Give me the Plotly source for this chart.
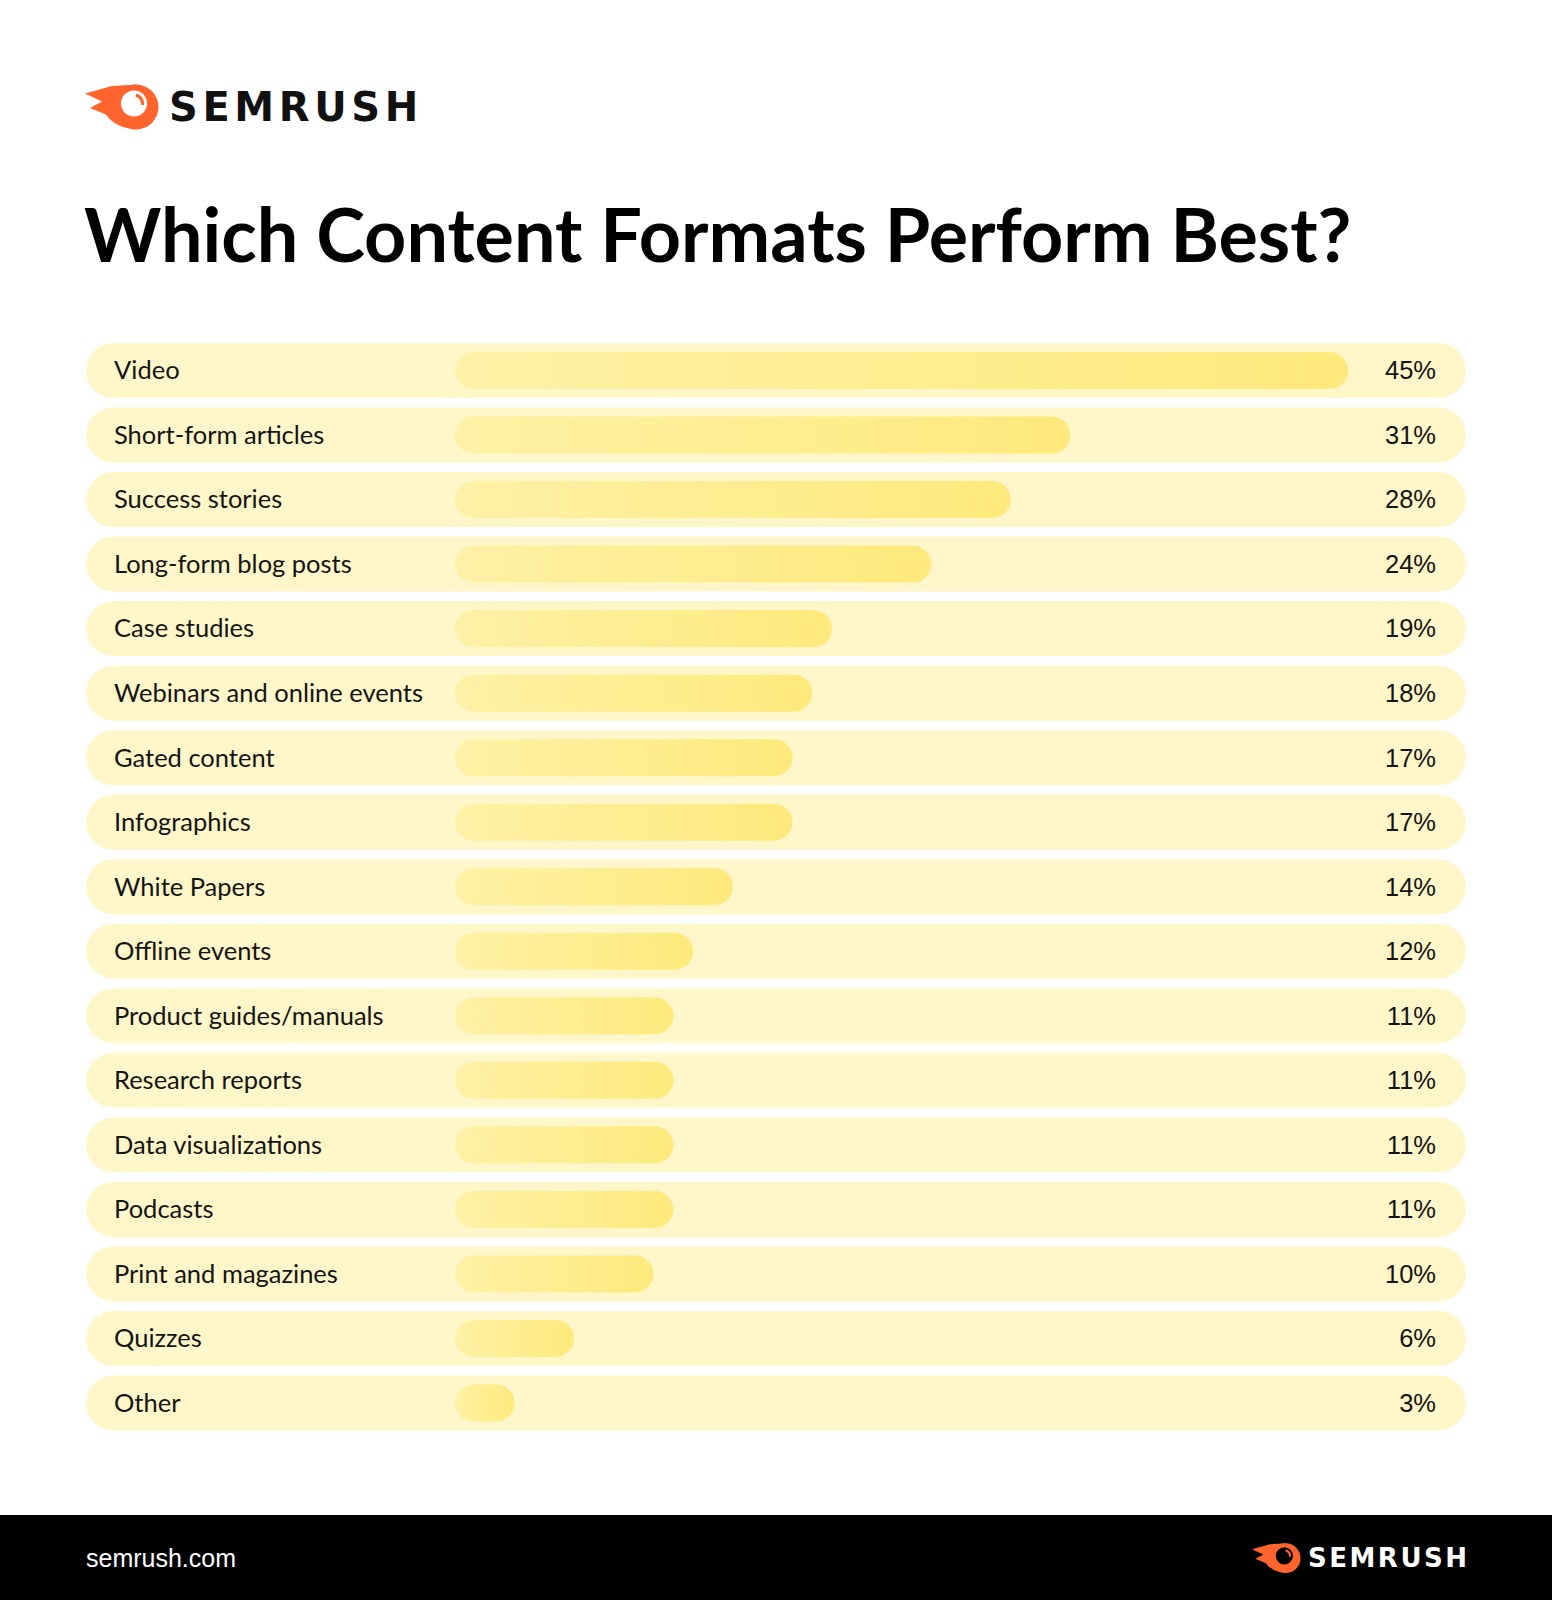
import numpy as np
import plotly.graph_objects as go

# ---------------- data ----------------
categories = [
    "Video", "Short-form articles", "Success stories", "Long-form blog posts",
    "Case studies", "Webinars and online events", "Gated content", "Infographics",
    "White Papers", "Offline events", "Product guides/manuals", "Research reports",
    "Data visualizations", "Podcasts", "Print and magazines", "Quizzes", "Other",
]
values = [45, 31, 28, 24, 19, 18, 17, 17, 14, 12, 11, 11, 11, 11, 10, 6, 3]
value_labels = [f"{v}%" for v in values]

title_text = "Which Content Formats Perform Best?"
brand_text = "SEMRUSH"
footer_url = "semrush.com"

# ---------------- geometry (pixel layout) ----------------
W, H = 1552, 1600
X0_PX = 455.0        # pixel where 0% sits
PX_PER_PCT = 19.85   # pixels per 1 %
Y0_PX = 370.5        # pixel centre of first row
ROW_PITCH = 64.53    # pixels between rows
TEXT_DY = 2.5 / ROW_PITCH  # small downward nudge for text baseline

def X(px):
    return (px - X0_PX) / PX_PER_PCT

def Y(py):
    return (py - Y0_PX) / ROW_PITCH

def pill(x0, x1, yc, r_px, n=24):
    """rounded pill in data coords; x0,x1 data, yc data, radius in px"""
    rx = r_px / PX_PER_PCT
    ry = r_px / ROW_PITCH
    xs, ys = [], []
    t = np.linspace(-np.pi / 2, np.pi / 2, n)
    xs += list(x1 - rx + rx * np.cos(t)); ys += list(yc + ry * np.sin(t))
    t = np.linspace(np.pi / 2, 3 * np.pi / 2, n)
    xs += list(x0 + rx + rx * np.cos(t)); ys += list(yc + ry * np.sin(t))
    xs.append(xs[0]); ys.append(ys[0])
    return xs, ys

ROW_BG = "#FFF7C9"
BAR_SCALE = [[0, "#FFF1A6"], [1, "#FFE97C"]]

fig = go.Figure()

# row backgrounds
bx, by = [], []
for i, _ in enumerate(categories):
    xs, ys = pill(X(86), X(1466), i, 27.5)
    bx += xs + [None]; by += ys + [None]
fig.add_trace(go.Scatter(x=bx, y=by, mode="lines", fill="toself",
                         fillcolor=ROW_BG, line=dict(width=0, color="rgba(0,0,0,0)"),
                         hoverinfo="skip", showlegend=False))

# bars (each with its own gradient)
for i, v in enumerate(values):
    xs, ys = pill(0, v, i, 18.5)
    fig.add_trace(go.Scatter(x=xs, y=ys, mode="lines", fill="toself",
                             fillgradient=dict(type="horizontal", colorscale=BAR_SCALE),
                             line=dict(width=0, color="rgba(0,0,0,0)"),
                             hoverinfo="skip", showlegend=False))

row_y = [i + TEXT_DY for i in range(len(categories))]

# category labels
fig.add_trace(go.Scatter(x=[X(114)] * len(categories), y=row_y,
                         mode="text", text=categories, textposition="middle right",
                         textfont=dict(family="Lato", size=25.5, color="#141414"),
                         hoverinfo="skip", showlegend=False))

# value labels
fig.add_trace(go.Scatter(x=[X(1436)] * len(values), y=row_y,
                         mode="text", text=value_labels, textposition="middle left",
                         textfont=dict(family="Liberation Sans", size=25.5, color="#141414"),
                         hoverinfo="skip", showlegend=False))

shapes = []
# footer band
shapes.append(dict(type="rect", xref="x", yref="y", x0=X(-5), x1=X(W + 5),
                   y0=Y(1515), y1=Y(H + 5), fillcolor="#000000", line=dict(width=0),
                   layer="below"))

ORANGE = "#FF642D"

def logo(ox, oy, s, inner_color):
    def P(rx, ry):
        return X(ox + rx * s), Y(oy + ry * s)
    pts = [(52, 0.5), (27, 2), (0, 9.5), (17, 17.5), (5, 24), (21, 30.5)]
    d = ""
    for k, (a, b) in enumerate(pts):
        px_, py_ = P(a, b)
        d += ("M" if k == 0 else "L") + f"{px_},{py_} "
    c1 = P(30, 44); e = P(52, 45.5)
    d += f"Q{c1[0]},{c1[1]} {e[0]},{e[1]} Z"
    out = [dict(type="path", xref="x", yref="y", path=d, fillcolor=ORANGE,
                line=dict(width=0))]
    # outer disk
    cx, cy, r = 51, 23, 22.5
    a0 = P(cx - r, cy - r); a1 = P(cx + r, cy + r)
    out.append(dict(type="circle", xref="x", yref="y", x0=a0[0], x1=a1[0],
                    y0=a0[1], y1=a1[1], fillcolor=ORANGE, line=dict(width=0)))
    # inner hole
    cx, cy, r = 49, 19.5, 13
    a0 = P(cx - r, cy - r); a1 = P(cx + r, cy + r)
    out.append(dict(type="circle", xref="x", yref="y", x0=a0[0], x1=a1[0],
                    y0=a0[1], y1=a1[1], fillcolor=inner_color, line=dict(width=0)))
    # small highlight arc
    t = np.linspace(-1.35, 0.15, 12)
    rr = 8.5
    d2 = ""
    for k, tt in enumerate(t):
        px_, py_ = P(cx + rr * np.cos(tt), cy + rr * np.sin(tt))
        d2 += ("M" if k == 0 else "L") + f"{px_},{py_} "
    out.append(dict(type="path", xref="x", yref="y", path=d2,
                    line=dict(width=3.2 * s, color=ORANGE)))
    return out

shapes += logo(85, 84, 1.0, "#FFFFFF")
shapes += logo(1252, 1543, 0.66, "#000000")

annotations = [
    dict(xref="x", yref="y", x=X(167), y=Y(107), xanchor="left", yanchor="middle",
         text=f'<span style="letter-spacing:4.6px">{brand_text}</span>', showarrow=False,
         font=dict(family="DejaVu Sans", size=40, color="#111111", weight="bold")),
    dict(xref="x", yref="y", x=X(82), y=Y(233), xanchor="left", yanchor="middle",
         text=title_text, showarrow=False,
         font=dict(family="Lato", size=73.7, color="#000000", weight="bold")),
    dict(xref="x", yref="y", x=X(84), y=Y(1558), xanchor="left", yanchor="middle",
         text=footer_url, showarrow=False,
         font=dict(family="Liberation Sans", size=25, color="#FFFFFF")),
    dict(xref="x", yref="y", x=X(1306), y=Y(1558), xanchor="left", yanchor="middle",
         text=f'<span style="letter-spacing:2.5px">{brand_text}</span>', showarrow=False,
         font=dict(family="DejaVu Sans", size=26, color="#FFFFFF", weight="bold")),
]

fig.update_layout(
    width=W, height=H, margin=dict(l=0, r=0, t=0, b=0),
    paper_bgcolor="#FFFFFF", plot_bgcolor="#FFFFFF",
    xaxis=dict(range=[X(0), X(W)], visible=False, fixedrange=True),
    yaxis=dict(range=[Y(H), Y(0)], visible=False, fixedrange=True),
    shapes=shapes, annotations=annotations, showlegend=False,
)

fig.write_html("out.html")
